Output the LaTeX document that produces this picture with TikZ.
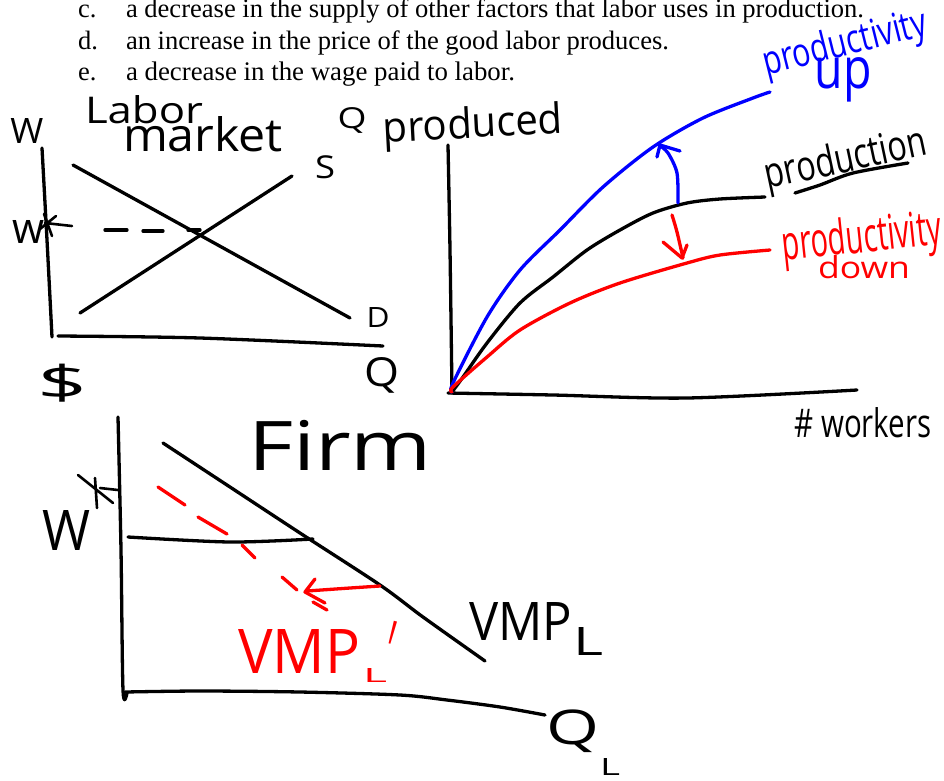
\documentclass[tikz,border=0pt]{standalone}
\usepackage{fontspec}
\usepackage{graphicx}
\setmainfont{Liberation Serif}
\newfontfamily\handfont{Open Sans}
% \hw{width}{height}{top}{depth}{text}: top/depth are the ink extents of the text at 100pt
\newcommand\hw[5]{\resizebox*{#1pt}{#2pt}{\raisebox{0pt}[#3pt][#4pt]{\fontsize{100}{100}\selectfont\handfont #5}}}
\definecolor{penblue}{RGB}{0,0,255}
\definecolor{penred}{RGB}{255,0,0}
\begin{document}
\begin{tikzpicture}[x=1pt,y=-1pt,
  pen/.style={line width=3.3pt,line cap=round,line join=round},
  thinpen/.style={line width=2.6pt,line cap=round,line join=round},
  lbl/.style={inner sep=0pt,outer sep=0pt,anchor=center},
  printed/.style={inner sep=0pt,outer sep=0pt,anchor=base west}]
\useasboundingbox (0,0) rectangle (944,780);
\fill[white] (0,0) rectangle (944,780);

% ---------- printed question text ----------
\node[printed] (lc) at (78,17) {\fontsize{26.5}{30}\selectfont c.};
\node[printed] (tc) at (126,17) {\resizebox{738pt}{!}{\fontsize{26.5}{30}\selectfont a decrease in the supply of other factors that labor uses in production.}};
\node[printed] (ld) at (78,49) {\fontsize{26.5}{30}\selectfont d.};
\node[printed] (td) at (126,49) {\resizebox{543pt}{!}{\fontsize{26.5}{30}\selectfont an increase in the price of the good labor produces.}};
\node[printed] (le) at (78,80) {\fontsize{26.5}{30}\selectfont e.};
\node[printed] (te) at (126,80) {\resizebox{389pt}{!}{\fontsize{26.5}{30}\selectfont a decrease in the wage paid to labor.}};

% ---------- labor market ----------
\draw[pen] plot[smooth] coordinates {(42,148) (47,240) (52,337)};
\draw[pen] plot[smooth] coordinates {(58,336) (200,338) (383,346)};
\draw[pen] (73,165) -- (350,318);
\draw[pen] (80,313) -- (292,176);
\draw[pen] (105,230)--(127,230) (143,231)--(163,231) (188,230)--(200,230);
\draw[thinpen] (45,223)--(72,226) (44,214)--(52,236) (40,229)--(56,216);

\node[lbl] (lmW) at (27,131) {\hw{33}{25}{71.4}{0}{W}};
\node[lbl] (lmLabor) at (144,109) {\hw{118}{28}{76}{0}{Labor}};
\node[lbl] (lmMarket) at (203,134) {\hw{160}{35}{76}{0}{market}};
\node[lbl] (lmS) at (325,167) {\hw{20}{23}{72}{1}{S}};
\node[lbl] (lmw) at (29,232) {\hw{32}{23}{53.5}{0}{w}};
\node[lbl] (lmD) at (378,317) {\hw{23}{20}{71.4}{0}{D}};
\node[lbl] (lmDollar) at (62,383) {\hw{50}{42}{80}{10}{\$}};
\node[lbl] (lmQ) at (382,375) {\hw{35}{36}{73}{17}{Q}};

% ---------- production function ----------
\node[lbl] (pfQ) at (352,120) {\hw{29}{26}{73}{17}{Q}};
\node[lbl,rotate=3] (pfProduced) at (473,127) {\hw{180}{42}{76}{24}{produced}};
\draw[pen] plot[smooth] coordinates {(448,145) (450,250) (452,393)};
\draw[pen] plot[smooth] coordinates {(448,393) (553,395) (687,398) (857,390)};

\draw[pen] plot[smooth] coordinates {(452,392) (463,377) (487,343) (520,303) (553,277) (587,250) (620,230) (653,213) (687,203) (720,199) (765,197)};
\draw[pen,penblue] plot[smooth] coordinates {(452,392) (453,383) (487,317) (520,270) (560,230) (603,187) (653,147) (703,118) (753,98) (770,92)};
\draw[pen,penred] plot[smooth] coordinates {(452,392) (453,387) (487,357) (520,330) (570,303) (620,283) (687,263) (720,255) (770,250)};

\draw[pen,penblue] plot[smooth] coordinates {(678,203) (677,173) (668,153) (659,145)};
\draw[pen,penblue] (657,157)--(660,145)--(680,151);
\draw[pen,penred] plot[smooth] coordinates {(672,215) (677,232) (683,258)};
\draw[pen,penred] (663,242)--(682,258)--(687,245);

\node[lbl,rotate=12] (pfProduction) at (846,161) {\hw{165}{42}{76}{24}{production}};
\draw[pen] plot[smooth] coordinates {(795,193) (820,185) (853,173) (908,163)};
\node[lbl,rotate=14,text=penblue] (pfProdUp) at (845,45) {\hw{168}{40}{76}{24}{productivity}};
\node[lbl,text=penblue] (pfUp) at (843,80) {\hw{57}{44}{53.5}{24}{up}};
\node[lbl,rotate=6,text=penred] (pfProdDown) at (862,240) {\hw{160}{48}{76}{24}{productivity}};
\node[lbl,text=penred] (pfDown) at (864,267) {\hw{92}{23}{76}{0}{down}};
\node[lbl] (pfWorkers) at (863,422) {\hw{137}{30}{76}{0}{\# workers}};

% ---------- firm ----------
\draw[pen] plot[smooth] coordinates {(118,417) (121,550) (123,690) (127,693)};
\draw[pen] plot[smooth] coordinates {(125,692) (200,691) (300,692) (400,695) (447,700) (500,707) (545,715)};
\draw[pen] plot[smooth] coordinates {(163,443) (230,487) (300,533) (380,585) (423,617) (485,661)};
\draw[pen] plot[smooth] coordinates {(128,537) (230,542) (313,539)};
\draw[pen,penred] (158,487)--(185,505) (198,517)--(227,534) (242,545)--(255,558) (282,577)--(297,590) (313,602)--(327,610);
\draw[pen,penred] plot[smooth] coordinates {(380,586) (350,588) (307,591)};
\draw[pen,penred] (315,579)--(305,592)--(325,603);
\draw[thinpen] (78,475)--(113,503) (95,478)--(97,508) (100,488)--(118,490);

\node[lbl] (fmFirm) at (340,444) {\hw{184}{52}{76}{0}{Firm}};
\node[lbl] (fmW) at (66,530) {\hw{48}{40}{71.4}{0}{W}};
\node[lbl] (fmVMP) at (521,621) {\hw{103}{38}{71.4}{0}{VMP}};
\node[lbl] (fmVMPsub) at (588,641) {\hw{30}{28}{71.4}{0}{L}};
\node[lbl,text=penred] (fmVMPr) at (299,651) {\hw{122}{44}{71.4}{0}{VMP}};
\node[lbl,text=penred] (fmVMPrsub) at (375,675) {\hw{24}{14}{71.4}{0}{L}};
\node[lbl,text=penred,rotate=-15] (fmPrime) at (393,632) {\resizebox*{8pt}{21pt}{\raisebox{-48pt}[23.4pt][0pt]{\fontsize{100}{100}\selectfont\handfont '}}};
\node[lbl] (fmQ) at (573,731) {\hw{53}{43}{73}{17}{Q}};
\node[lbl] (fmQsub) at (610,767) {\hw{20}{17}{71.4}{0}{L}};
\end{tikzpicture}
\end{document}
